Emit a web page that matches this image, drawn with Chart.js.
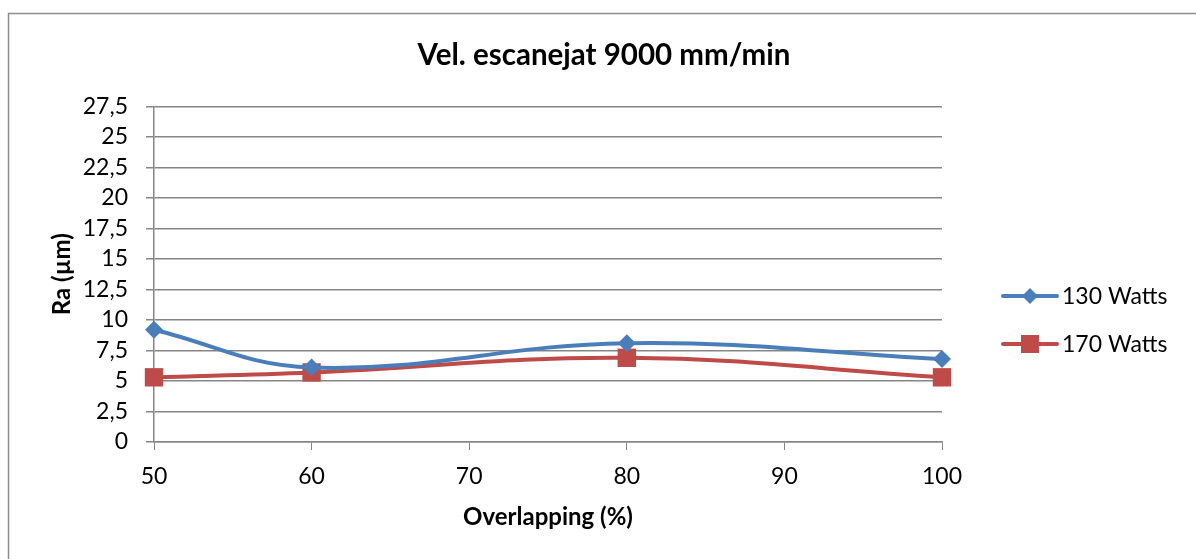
<!DOCTYPE html>
<html>
<head>
<meta charset="utf-8">
<script src="https://cdn.jsdelivr.net/npm/chart.js@4/dist/chart.umd.min.js"></script>
<style>
  html, body { margin: 0; padding: 0; background: #fff; }
  #wrap { width: 1196px; height: 559px; }
</style>
</head>
<body>
<div id="wrap"><canvas id="raChart" width="1196" height="559"></canvas></div>
<script>
// Data
const overlapping = [50, 60, 80, 100];
const ra130 = [9.2, 6.1, 8.1, 6.8];
const ra170 = [5.3, 5.7, 6.9, 5.3];
const seriesNames = ['130 Watts', '170 Watts'];
const yTicks = [0, 2.5, 5, 7.5, 10, 12.5, 15, 17.5, 20, 22.5, 25, 27.5];
const xTicks = [50, 60, 70, 80, 90, 100];

const FONT = 'Lato, "Open Sans", sans-serif';
const gray = '#868686';

// outer frame of the chart
const framePlugin = {
    id: 'frame',
    beforeDraw(chart) {
        const ctx = chart.ctx;
        ctx.save();
        ctx.fillStyle = '#fff';
        ctx.fillRect(0, 0, chart.width, chart.height);
        ctx.strokeStyle = '#8c8c8c';
        ctx.lineWidth = 1.5;
        ctx.strokeRect(8.5, 13.5, 1300, 700);
        ctx.restore();
    }
};

// Excel-like legend: line with marker in the middle
const legendPlugin = {
    id: 'sideLegend',
    afterDraw(chart) {
        const ctx = chart.ctx;
        ctx.save();
        chart.data.datasets.forEach((ds, i) => {
            const y = 296 + i * 48;
            const x0 = 1003, x1 = 1057, cx = 1030;
            ctx.strokeStyle = ds.borderColor;
            ctx.lineWidth = 4;
            ctx.lineCap = 'round';
            ctx.beginPath();
            ctx.moveTo(x0, y);
            ctx.lineTo(x1, y);
            ctx.stroke();
            ctx.fillStyle = ds.pointBackgroundColor;
            ctx.beginPath();
            if (ds.pointStyle === 'rectRot') {
                const r = 8;
                ctx.moveTo(cx, y - r);
                ctx.lineTo(cx + r, y);
                ctx.lineTo(cx, y + r);
                ctx.lineTo(cx - r, y);
                ctx.closePath();
            } else {
                ctx.rect(cx - 9, y - 9, 18, 18);
            }
            ctx.fill();
            ctx.fillStyle = '#000';
            ctx.font = '23px ' + FONT;
            ctx.textBaseline = 'middle';
            ctx.textAlign = 'left';
            ctx.fillText(ds.label, 1062, y + 1);
        });
        ctx.restore();
    }
};

const ctx = document.getElementById('raChart').getContext('2d');
new Chart(ctx, {
    type: 'line',
    data: {
        datasets: [
            {
                label: seriesNames[0],
                data: overlapping.map((x, i) => ({ x: x, y: ra130[i] })),
                borderColor: '#4a7ebb',
                backgroundColor: '#4a7ebb',
                pointBackgroundColor: '#4a7ebb',
                pointBorderWidth: 0,
                pointStyle: 'rectRot',
                pointRadius: 9,
                borderWidth: 4,
                tension: 0.4
            },
            {
                label: seriesNames[1],
                data: overlapping.map((x, i) => ({ x: x, y: ra170[i] })),
                borderColor: '#be4b48',
                backgroundColor: '#be4b48',
                pointBackgroundColor: '#be4b48',
                pointBorderWidth: 0,
                pointStyle: 'rect',
                pointRadius: 13,
                borderWidth: 4,
                tension: 0.4
            }
        ]
    },
    options: {
        responsive: false,
        animation: false,
        clip: false,
        layout: { padding: { left: 12, right: 0, top: 0, bottom: 0 } },
        plugins: {
            legend: { display: false },
            tooltip: { enabled: false },
            title: {
                display: true,
                text: 'Vel. escanejat 9000 mm/min',
                color: '#000',
                font: { family: FONT, size: 29.5, weight: 'bold' },
                padding: { top: 38, bottom: 33 }
            }
        },
        scales: {
            x: {
                type: 'linear',
                min: 50,
                max: 100,
                afterBuildTicks: (scale) => { scale.ticks = xTicks.map(v => ({ value: v })); },
                afterFit: (scale) => { scale.height = 117; },
                grid: { drawOnChartArea: false, color: gray, tickLength: 8 },
                border: { color: gray, width: 1.5 },
                ticks: { color: '#000', padding: 13, autoSkip: false, maxRotation: 0, font: { family: FONT, size: 23 } },
                title: {
                    display: true,
                    text: 'Overlapping (%)',
                    color: '#000',
                    font: { family: FONT, size: 24, weight: 'bold' },
                    padding: { top: 0, bottom: 27 }
                }
            },
            y: {
                min: 0,
                max: 27.5,
                afterBuildTicks: (scale) => { scale.ticks = yTicks.map(v => ({ value: v })); },
                afterFit: (scale) => { scale.width = 142; },
                grid: { color: gray, lineWidth: 1.5, tickLength: 8 },
                border: { color: gray, width: 1.5 },
                ticks: {
                    color: '#000',
                    padding: 18,
                    autoSkip: false,
                    font: { family: FONT, size: 23 },
                    callback: (v) => String(v).replace('.', ',')
                },
                title: {
                    display: true,
                    text: 'Ra (µm)',
                    color: '#000',
                    font: { family: FONT, size: 24, weight: 'bold' },
                    padding: { top: 36, bottom: 0 }
                }
            },
            // empty space on the right for the legend
            legendSpace: {
                type: 'linear',
                position: 'right',
                min: 0,
                max: 1,
                grid: { display: false },
                border: { display: false },
                ticks: { display: false },
                afterFit: (scale) => { scale.width = 254; }
            }
        }
    },
    plugins: [framePlugin, legendPlugin]
});
</script>
</body>
</html>
